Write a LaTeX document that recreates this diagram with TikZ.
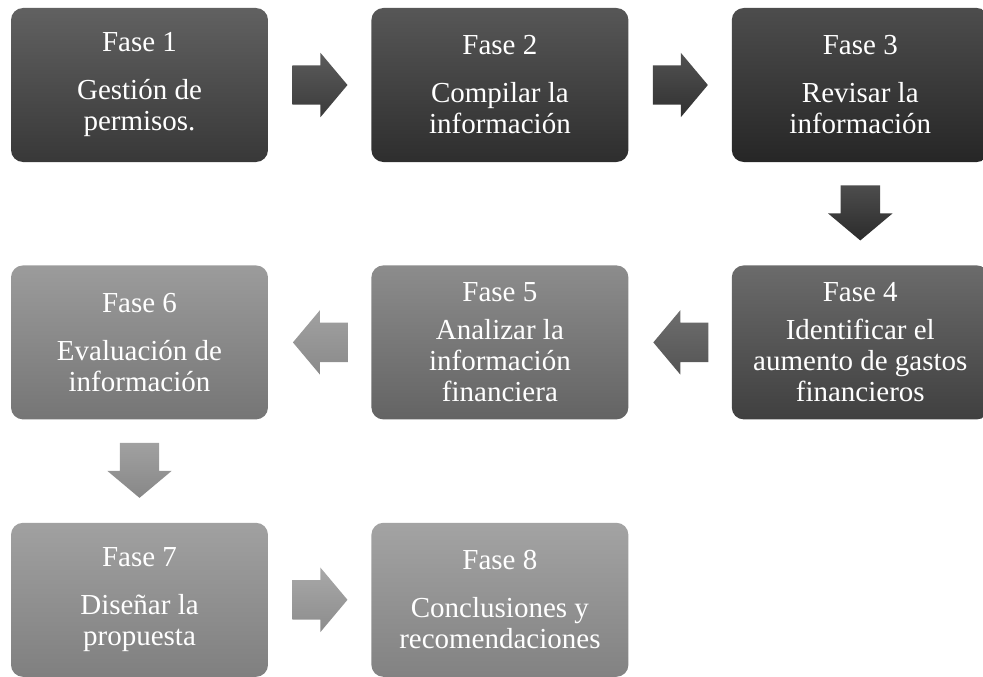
\documentclass[tikz,border=0pt]{standalone}
\usepackage{fontspec}
\setmainfont{Liberation Serif}
\usetikzlibrary{shapes.geometric, shapes.arrows, positioning, calc}

\begin{document}
\begin{tikzpicture}[x=1pt, y=-1pt, node distance=103pt and 103pt,
    fase/.style={rectangle, rounded corners=12pt, minimum width=257pt, minimum height=154pt,
        inner sep=0pt, align=center, text=white, font=\fontsize{29}{31}\selectfont},
    flecha/.style={single arrow, minimum height=55pt,
        single arrow head extend=12.5pt, single arrow tip angle=100},
    flechader/.style={flecha, inner xsep=0pt, inner ysep=19.5pt, xshift=-8pt},
    flechaizq/.style={flecha, shape border rotate=180, inner xsep=0pt, inner ysep=19.5pt, xshift=9pt},
    flechaabj/.style={flecha, shape border rotate=270, inner xsep=19.5pt, inner ysep=0pt, yshift=9pt}]
    \useasboundingbox (0,0) rectangle (983,677);

    % fases
    \node (f1) [fase, top color=black!62, bottom color=black!78] at (139.5,85) {Fase 1\\[17pt]Gestión de\\permisos.};
    \node (f2) [fase, top color=black!66, bottom color=black!82, right=of f1] {Fase 2\\[17pt]Compilar la\\información};
    \node (f3) [fase, top color=black!70, bottom color=black!85, right=of f2] {Fase 3\\[17pt]Revisar la\\información};
    \node (f4) [fase, top color=black!58, bottom color=black!75, below=of f3] {Fase 4\\[7pt]Identificar el\\aumento de gastos\\financieros};
    \node (f5) [fase, top color=black!45, bottom color=black!61, left=of f4] {Fase 5\\[7pt]Analizar la\\información\\financiera};
    \node (f6) [fase, top color=black!39, bottom color=black!54, left=of f5] {Fase 6\\[17pt]Evaluación de\\información};
    \node (f7) [fase, top color=black!37, bottom color=black!50, below=of f6] {Fase 7\\[17pt]Diseñar la\\propuesta};
    \node (f8) [fase, top color=black!36, bottom color=black!49, right=of f7] {Fase 8\\[17pt]Conclusiones y\\recomendaciones};

    % flechas
    \node (a12) [flechader, top color=black!64, bottom color=black!77] at ($(f1.east)!0.5!(f2.west)$) {};
    \node (a23) [flechader, top color=black!68, bottom color=black!81] at ($(f2.east)!0.5!(f3.west)$) {};
    \node (a34) [flechaabj, top color=black!70, bottom color=black!83] at ($(f3.south)!0.5!(f4.north)$) {};
    \node (a45) [flechaizq, top color=black!57, bottom color=black!67] at ($(f4.west)!0.5!(f5.east)$) {};
    \node (a56) [flechaizq, top color=black!37, bottom color=black!46] at ($(f5.west)!0.5!(f6.east)$) {};
    \node (a67) [flechaabj, top color=black!37, bottom color=black!47] at ($(f6.south)!0.5!(f7.north)$) {};
    \node (a78) [flechader, top color=black!34, bottom color=black!45] at ($(f7.east)!0.5!(f8.west)$) {};
\end{tikzpicture}
\end{document}
